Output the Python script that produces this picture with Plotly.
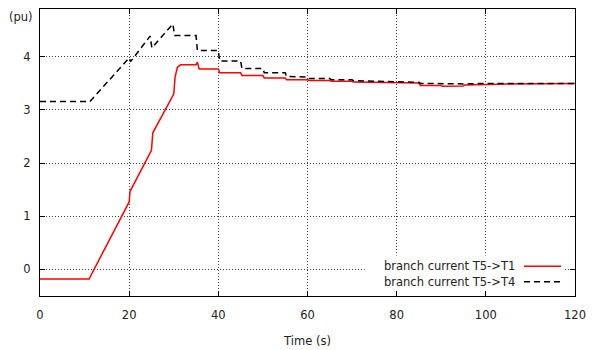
import plotly.graph_objects as go

# Branch current T5->T1 (red, solid)
t_t1 = [0, 11, 20, 20.2, 25, 25.3, 30, 30.3, 30.8, 31.5, 35, 35.3, 35.7, 40, 40.3,
        45, 45.3, 50, 50.3, 55, 55.3, 60, 60.3, 65, 65.3, 70, 70.3, 75, 80, 85,
        85.3, 90, 90.3, 95, 95.3, 100, 105, 120]
i_t1 = [-0.18, -0.18, 1.27, 1.47, 2.24, 2.57, 3.30, 3.62, 3.80, 3.85, 3.85, 3.90, 3.77,
        3.77, 3.70, 3.70, 3.65, 3.65, 3.60, 3.60, 3.57, 3.57, 3.555, 3.555, 3.54, 3.54,
        3.525, 3.52, 3.51, 3.51, 3.46, 3.46, 3.445, 3.45, 3.47, 3.48, 3.49, 3.50]

# Branch current T5->T4 (black, dashed)
t_t4 = [0, 11.2, 20, 20.3, 24.7, 25.1, 29.8, 30.2, 35, 35.3, 40, 40.3, 45, 45.3,
        50, 50.3, 55, 55.3, 60, 60.3, 65, 65.3, 70, 70.3, 75, 80, 85, 85.3, 90, 95,
        100, 120]
i_t4 = [3.16, 3.16, 3.98, 3.91, 4.39, 4.17, 4.62, 4.40, 4.40, 4.12, 4.12, 3.92, 3.92,
        3.78, 3.78, 3.70, 3.70, 3.63, 3.62, 3.59, 3.59, 3.57, 3.57, 3.55, 3.54, 3.53,
        3.52, 3.50, 3.49, 3.49, 3.50, 3.50]

names = ["branch current T5->T1", "branch current T5->T4"]
x_ticks = [0, 20, 40, 60, 80, 100, 120]
y_ticks = [0, 1, 2, 3, 4]

FONT = "DejaVu Sans"
fig = go.Figure()
fig.add_trace(go.Scatter(x=t_t1, y=i_t1, mode="lines", name=names[0],
                         line=dict(color="#ff0000", width=1.5)))
fig.add_trace(go.Scatter(x=t_t4, y=i_t4, mode="lines", name=names[1],
                         line=dict(color="#000000", width=1.5, dash="6px,4px")))

axis_common = dict(showline=True, linecolor="black", linewidth=1.2, mirror="ticks",
                   ticks="inside", ticklen=5, tickcolor="black", tickwidth=1,
                   showgrid=True, gridcolor="#444444", griddash="1px,2px", gridwidth=1,
                   zeroline=False, automargin=False,
                   tickfont=dict(family=FONT, size=11.5, color="#222"))

fig.update_xaxes(range=[0, 120], tickvals=x_ticks, ticklabelstandoff=8,
                 title=dict(text="Time (s)", font=dict(family=FONT, size=11.5, color="#222"),
                            standoff=16), **axis_common)
fig.update_yaxes(range=[-0.5, 4.9], tickvals=y_ticks, ticklabelstandoff=6, **axis_common)

# legend background box (covers grid in the legend area; no data there)
fig.add_shape(type="rect", xref="paper", yref="paper", x0=0.607, x1=0.981, y0=0.023, y1=0.141,
              fillcolor="white", line=dict(width=0), layer="above")
legend_rows = [0.1037, 0.0494]
styles = [dict(color="#ff0000", width=1.5), dict(color="#000000", width=1.5, dash="6px,4px")]
for nm, yy, st in zip(names, legend_rows, styles):
    fig.add_annotation(text=nm, xref="paper", yref="paper", x=0.8916, y=yy,
                       xanchor="right", yanchor="middle", showarrow=False,
                       font=dict(family=FONT, size=11.5, color="#222"))
    fig.add_shape(type="line", xref="paper", yref="paper", x0=0.9047, x1=0.9738, y0=yy, y1=yy,
                  line=st, layer="above")

fig.add_annotation(text="(pu)", xref="paper", yref="paper", x=-0.0364, y=1.0,
                   xanchor="center", yanchor="middle", showarrow=False,
                   font=dict(family=FONT, size=11.5, color="#222"), yshift=-8)

fig.update_layout(width=597, height=350, margin=dict(l=40, r=22, t=9, b=53.5),
                  plot_bgcolor="white", paper_bgcolor="white", showlegend=False)

fig.write_html("out.html")
